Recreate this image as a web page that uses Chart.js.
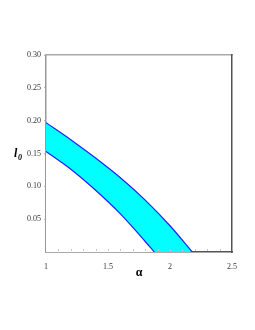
<!DOCTYPE html>
<html>
<head>
<meta charset="utf-8">
<script src="https://cdn.jsdelivr.net/npm/chart.js@4.4.0/dist/chart.umd.min.js"></script>
<style>
  html, body { margin: 0; padding: 0; background: #fff; }
  #wrap { width: 255px; height: 330px; }
</style>
</head>
<body>
<div id="wrap"><canvas id="chart" width="255" height="330"></canvas></div>
<script>
// upper and lower edge of the band
const upperAlpha = [1, 1.2, 1.4, 1.6, 1.8, 2.0, 2.18];
const upperL0 = [0.197, 0.171, 0.143, 0.113, 0.079, 0.040, 0.0];
const lowerAlpha = [1, 1.2, 1.4, 1.6, 1.8, 1.873];
const lowerL0 = [0.153, 0.126, 0.094, 0.058, 0.016, 0.0];

const xTicks = [1, 1.5, 2, 2.5];
const yTicks = [0.05, 0.10, 0.15, 0.20, 0.25, 0.30];

const toPoints = (xs, ys) => xs.map((x, i) => ({ x: x, y: ys[i] }));
const serif = "'Liberation Serif', 'Times New Roman', serif";

// short inward ticks along the bottom, and the axis names
const decor = {
  id: "decor",
  afterDraw(chart) {
    const ctx = chart.ctx;
    const a = chart.chartArea;
    const xs = chart.scales.x;
    ctx.save();
    ctx.strokeStyle = "#c8c8c8";
    ctx.lineWidth = 1;
    for (let v = 1.1; v < 2.5; v += 0.1) {
      const px = Math.round(xs.getPixelForValue(v)) + 0.5;
      ctx.beginPath();
      ctx.moveTo(px, a.bottom - 1);
      ctx.lineTo(px, a.bottom - 3);
      ctx.stroke();
    }
    ctx.fillStyle = "#000";
    ctx.textBaseline = "alphabetic";
    ctx.font = "bold italic 12px " + serif;
    ctx.fillText("l", 14, 157);
    ctx.font = "bold italic 8px " + serif;
    ctx.fillText("0", 18, 160);
    ctx.font = "bold 12px " + serif;
    ctx.textAlign = "center";
    ctx.fillText("\u03b1", (a.left + a.right) / 2, 276);
    ctx.restore();
  }
};

new Chart(document.getElementById("chart"), {
  type: "line",
  data: {
    datasets: [
      {
        // lower edge: white under it, so only the band stays cyan
        data: toPoints(lowerAlpha, lowerL0),
        borderColor: "#2020ff",
        borderWidth: 1.2,
        backgroundColor: "#ffffff",
        fill: "origin",
        pointRadius: 0,
        cubicInterpolationMode: "monotone"
      },
      {
        data: toPoints(upperAlpha, upperL0),
        borderColor: "#2020ff",
        borderWidth: 1.2,
        backgroundColor: "#00ffff",
        fill: "origin",
        pointRadius: 0,
        cubicInterpolationMode: "monotone"
      }
    ]
  },
  options: {
    responsive: false,
    animation: false,
    layout: { padding: { top: 55, right: 23, left: 0, bottom: 0 } },
    plugins: { legend: { display: false }, tooltip: { enabled: false } },
    scales: {
      x: {
        type: "linear",
        z: 1,
        min: 1,
        max: 2.5,
        afterBuildTicks: (s) => { s.ticks = xTicks.map((v) => ({ value: v })); },
        afterFit: (s) => { s.height = 78; },
        ticks: {
          color: "#333",
          padding: 2,
          font: { family: serif, size: 8 },
          maxRotation: 0,
          callback: (v) => String(v)
        },
        grid: { display: false },
        border: { color: "#555", width: 1.5 }
      },
      y: {
        z: 1,
        min: 0,
        max: 0.3,
        afterBuildTicks: (s) => { s.ticks = yTicks.map((v) => ({ value: v })); },
        afterFit: (s) => { s.width = 46; },
        ticks: {
          color: "#333",
          padding: 3,
          font: { family: serif, size: 8 },
          callback: (v) => v.toFixed(2)
        },
        grid: { drawOnChartArea: false, tickLength: 2, color: "#bbb" },
        border: { color: "#999", width: 1.5 }
      },
      xTop: {
        type: "linear",
        position: "top",
        z: 1,
        min: 1,
        max: 2.5,
        afterFit: (s) => { s.height = 0; },
        ticks: { display: false },
        grid: { display: false },
        border: { color: "#aaa", width: 1.5 }
      },
      yRight: {
        position: "right",
        z: 1,
        min: 0,
        max: 0.3,
        afterFit: (s) => { s.width = 0; },
        ticks: { display: false },
        grid: { display: false },
        border: { color: "#555", width: 1.5 }
      }
    }
  },
  plugins: [decor]
});
</script>
</body>
</html>
